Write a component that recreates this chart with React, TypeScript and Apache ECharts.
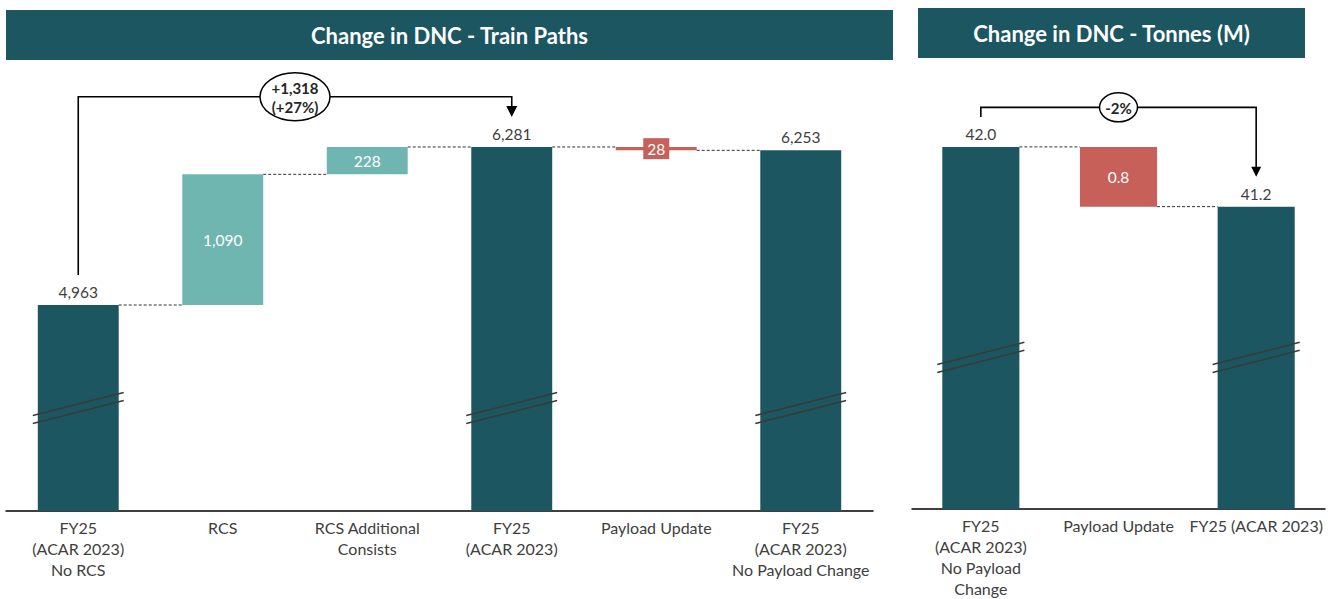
import React, { useEffect, useRef } from "react";
import * as echarts from "echarts";

// ---------- data ----------
const trainCategories = [
  "FY25\n(ACAR 2023)\nNo RCS",
  "RCS",
  "RCS Additional\nConsists",
  "FY25\n(ACAR 2023)",
  "Payload Update",
  "FY25\n(ACAR 2023)\nNo Payload Change",
];
const trainSteps = [4963, 1090, 228, 6281, -28, 6253];
const trainIsTotal = [true, false, false, true, false, true];
const trainBreakBars = [0, 3, 5];
const trainBracketText = "+1,318\n(+27%)";

const tonneCategories = [
  "FY25\n(ACAR 2023)\nNo Payload\nChange",
  "Payload Update",
  "FY25 (ACAR 2023)",
];
const tonneSteps = [42.0, -0.8, 41.2];
const tonneIsTotal = [true, false, true];
const tonneBreakBars = [0, 2];
const tonneBracketText = "-2%";

// ---------- style ----------
const FONT = 'Lato, "Noto Sans", sans-serif';
const C_TOTAL = "#1C5661";
const C_UP = "#70B6B0";
const C_DOWN = "#C66058";
const C_TEXT = "#404040";
const BAR_FRAC = 0.56;

function build(steps: number[], isTotal: boolean[]) {
  let run = 0;
  const base: number[] = [];
  const size: number[] = [];
  const kind: string[] = [];
  const ends: number[] = [];
  steps.forEach((v, i) => {
    if (isTotal[i]) {
      base.push(0);
      size.push(v);
      kind.push("total");
      run = v;
    } else if (v >= 0) {
      base.push(run);
      size.push(v);
      kind.push("up");
      run = run + v;
    } else {
      run = run + v;
      base.push(run);
      size.push(-v);
      kind.push("down");
    }
    ends.push(Math.round(run * 1000) / 1000);
  });
  return { base, size, kind, ends };
}

function makeSeries(
  steps: number[],
  isTotal: boolean[],
  breaks: number[],
  breakValue: number,
  bracket: { from: number; to: number; level: number; text: string; rx: number; ry: number; lh: number; tri: number },
  axisIdx: number,
  fmt: (v: number) => string
) {
  const w = build(steps, isTotal);
  const n = steps.length;
  const colorOf = (k: string) => (k === "total" ? C_TOTAL : k === "up" ? C_UP : C_DOWN);
  const valueData = w.size.map((s, i) => {
    const k = w.kind[i];
    const item: any = { value: s, itemStyle: { color: colorOf(k) } };
    if (k === "total") {
      item.label = { show: true, position: "top", distance: 5, color: C_TEXT, fontSize: 15.5 };
    } else if (k === "down" && s / (steps[0] || 1) < 0.01) {
      item.label = {
        show: true,
        position: "inside",
        color: "#fff",
        fontSize: 15.5,
        backgroundColor: C_DOWN,
        padding: [3, 4, 2, 4],
      };
    } else {
      item.label = { show: true, position: "inside", color: "#fff", fontSize: 15.5 };
    }
    return item;
  });
  const connectors = [];
  for (let i = 0; i < n - 1; i++) connectors.push([i, w.ends[i]]);

  return [
    {
      type: "bar",
      name: "base" + axisIdx,
      stack: "wf" + axisIdx,
      xAxisIndex: axisIdx,
      yAxisIndex: axisIdx,
      barWidth: BAR_FRAC * 100 + "%",
      itemStyle: { color: "transparent" },
      silent: true,
      data: w.base,
    },
    {
      type: "bar",
      name: "value" + axisIdx,
      stack: "wf" + axisIdx,
      xAxisIndex: axisIdx,
      yAxisIndex: axisIdx,
      barWidth: BAR_FRAC * 100 + "%",
      label: { fontFamily: FONT, formatter: (p: any) => fmt(p.value) },
      data: valueData,
    },
    {
      type: "custom",
      xAxisIndex: axisIdx,
      yAxisIndex: axisIdx,
      silent: true,
      z: 5,
      data: connectors,
      renderItem: (params: any, api: any) => {
        const i = api.value(0);
        const v = api.value(1);
        const a = api.coord([i, v]);
        const b = api.coord([i + 1, v]);
        const half = (api.size([1, 0])[0] * BAR_FRAC) / 2;
        return {
          type: "line",
          shape: { x1: a[0] + half, y1: a[1], x2: b[0] - half, y2: b[1] },
          style: { stroke: "#333", lineWidth: 1, lineDash: [3, 2] },
        };
      },
    },
    {
      type: "custom",
      xAxisIndex: axisIdx,
      yAxisIndex: axisIdx,
      silent: true,
      z: 6,
      data: breaks.map((b) => [b, breakValue]),
      renderItem: (params: any, api: any) => {
        const c = api.coord([api.value(0), api.value(1)]);
        const half = (api.size([1, 0])[0] * BAR_FRAC) / 2 + 5;
        const dy = half * 0.255;
        const mk = (off: number) => ({
          type: "line",
          shape: { x1: c[0] - half, y1: c[1] + off + dy, x2: c[0] + half, y2: c[1] + off - dy },
          style: { stroke: "#3a3a3a", lineWidth: 1.5 },
        });
        return { type: "group", children: [mk(-4), mk(4)] };
      },
    },
    {
      type: "custom",
      xAxisIndex: axisIdx,
      yAxisIndex: axisIdx,
      silent: true,
      z: 7,
      dimensions: ["from", "to", "a", "b", "level"],
      encode: { x: 0, y: 2 },
      data: [[bracket.from, bracket.to, w.ends[bracket.from], w.ends[bracket.to], bracket.level]],
      renderItem: (params: any, api: any) => {
        const from = api.value(0);
        const to = api.value(1);
        const p1 = api.coord([from, api.value(2)]);
        const p2 = api.coord([to, api.value(3)]);
        const yl = api.coord([from, api.value(4)])[1];
        const x1 = p1[0];
        const x2 = p2[0];
        const y1 = p1[1] - 30;
        const tip = p2[1] - 30;
        const t = bracket.tri;
        const cx = (x1 + x2) / 2;
        return {
          type: "group",
          children: [
            {
              type: "polyline",
              shape: { points: [[x1, y1], [x1, yl], [x2, yl], [x2, tip - t + 1]] },
              style: { stroke: "#000", lineWidth: 1.6, fill: null },
            },
            {
              type: "polygon",
              shape: { points: [[x2 - t / 2, tip - t], [x2 + t / 2, tip - t], [x2, tip]] },
              style: { fill: "#000" },
            },
            {
              type: "ellipse",
              shape: { cx, cy: yl, rx: bracket.rx, ry: bracket.ry },
              style: { fill: "#fff", stroke: "#000", lineWidth: 1.5 },
            },
            {
              type: "text",
              x: cx,
              y: yl + 1,
              style: {
                text: bracket.text,
                fill: "#262626",
                font: "bold 15px " + FONT,
                align: "center",
                verticalAlign: "middle",
                lineHeight: bracket.lh,
              },
            },
          ],
        };
      },
    },
  ];
}

export default function App() {
  const ref = useRef<HTMLDivElement>(null);
  useEffect(() => {
    if (!ref.current) return;
    const chart = echarts.init(ref.current, null, { renderer: "svg" });
    const fmtInt = (v: number) => Math.round(v).toLocaleString("en-US");
    const fmt1 = (v: number) => v.toFixed(1);
    const axisLabel = {
      interval: 0,
      color: C_TEXT,
      fontSize: 16,
      lineHeight: 21,
      margin: 6,
      fontFamily: FONT,
      align: "center",
    };
    const option: any = {
      animation: false,
      textStyle: { fontFamily: FONT },
      grid: [
        { left: 6, right: 458, top: 70, bottom: 88 },
        { left: 912, right: 6, top: 70, bottom: 88 },
      ],
      xAxis: [0, 1].map((g) => ({
        type: "category",
        gridIndex: g,
        data: g === 0 ? trainCategories : tonneCategories,
        axisTick: { show: false },
        axisLine: { lineStyle: { color: "#000", width: 1.5 } },
        axisLabel,
      })),
      yAxis: [
        { type: "value", gridIndex: 0, min: 3245, max: 6923, show: false, splitLine: { show: false } },
        { type: "value", gridIndex: 1, min: 37.15, max: 43.03, show: false, splitLine: { show: false } },
      ],
      series: [
        ...makeSeries(
          trainSteps,
          trainIsTotal,
          trainBreakBars,
          4104,
          { from: 0, to: 3, level: 6700, text: trainBracketText, rx: 35, ry: 24, lh: 19, tri: 11 },
          0,
          fmtInt
        ),
        ...makeSeries(
          tonneSteps,
          tonneIsTotal,
          tonneBreakBars,
          39.18,
          { from: 0, to: 2, level: 42.53, text: tonneBracketText, rx: 19, ry: 14.5, lh: 18, tri: 10 },
          1,
          fmt1
        ),
      ],
      graphic: [
        {
          type: "group",
          children: [
            { type: "rect", shape: { x: 6, y: 10, width: 887, height: 50 }, style: { fill: C_TOTAL } },
            {
              type: "text",
              x: 449.5,
              y: 35,
              style: {
                text: "Change in DNC - Train Paths",
                fill: "#fff",
                font: "bold 22px " + FONT,
                align: "center",
                verticalAlign: "middle",
              },
            },
          ],
        },
        {
          type: "group",
          children: [
            { type: "rect", shape: { x: 918, y: 8, width: 387, height: 50 }, style: { fill: C_TOTAL } },
            {
              type: "text",
              x: 1111.5,
              y: 33,
              style: {
                text: "Change in DNC - Tonnes (M)",
                fill: "#fff",
                font: "bold 22px " + FONT,
                align: "center",
                verticalAlign: "middle",
              },
            },
          ],
        },
      ],
    };
    chart.setOption(option);
    return () => chart.dispose();
  }, []);
  return (
    <div
      ref={ref}
      style={{ position: "fixed", left: 0, top: 0, width: 1331, height: 599, background: "#fff" }}
    />
  );
}
